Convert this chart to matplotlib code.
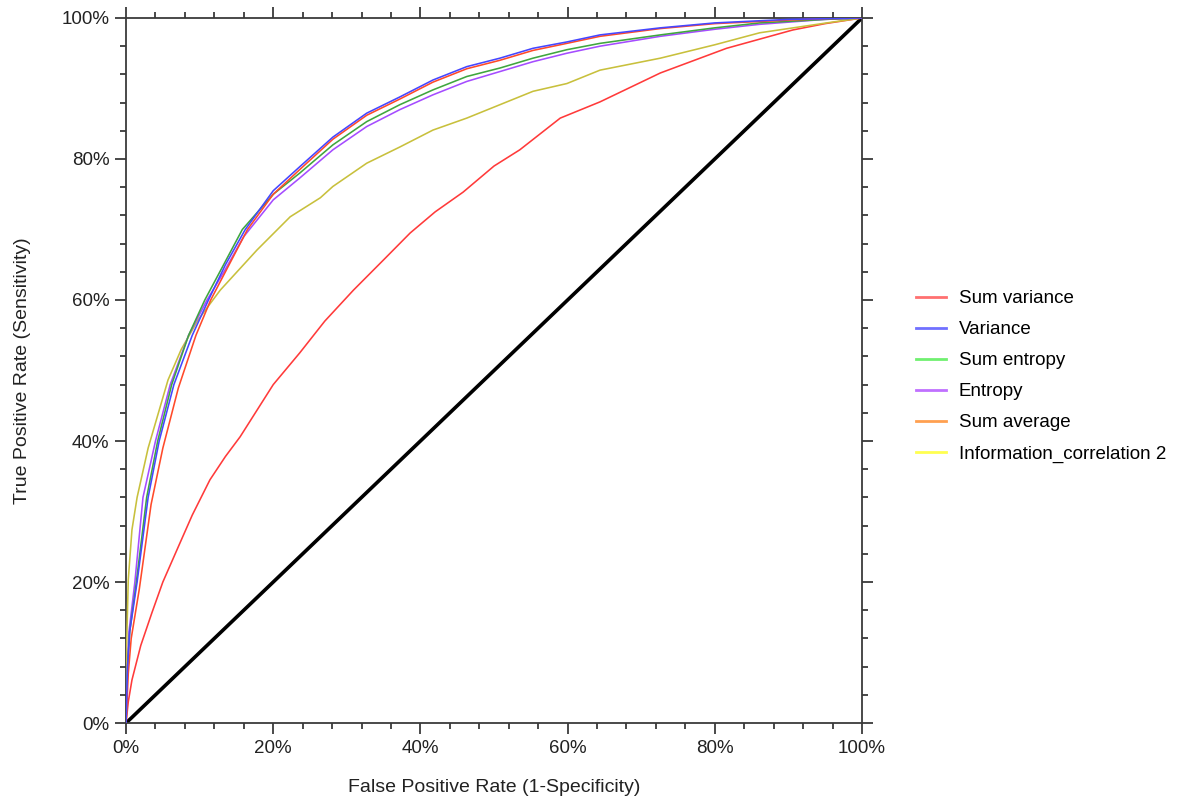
import matplotlib
matplotlib.use("Agg")
import matplotlib.pyplot as plt
from matplotlib.lines import Line2D
from matplotlib.ticker import MultipleLocator, PercentFormatter

plt.rcParams["font.family"] = ["Liberation Sans", "DejaVu Sans"]

# ROC points (FPR, TPR as fractions)
fpr_sum_variance = [0, 0.003, 0.008, 0.02, 0.035, 0.05, 0.071, 0.09, 0.114, 0.135, 0.155, 0.2,
                    0.236, 0.27, 0.309, 0.35, 0.386, 0.42, 0.458, 0.5, 0.535, 0.59, 0.644,
                    0.726, 0.816, 0.906, 0.95, 1.0]
tpr_sum_variance = [0, 0.03, 0.061, 0.11, 0.156, 0.20, 0.25, 0.295, 0.345, 0.378, 0.406, 0.48,
                    0.525, 0.57, 0.614, 0.657, 0.695, 0.725, 0.753, 0.79, 0.813, 0.858, 0.881,
                    0.922, 0.957, 0.983, 0.992, 1.0]

fpr_variance = [0, 0.002, 0.005, 0.015, 0.03, 0.045, 0.065, 0.09, 0.112, 0.135, 0.162, 0.2,
                0.236, 0.281, 0.327, 0.372, 0.417, 0.463, 0.508, 0.553, 0.599, 0.644, 0.726,
                0.8, 0.9, 0.952, 1.0]
tpr_variance = [0, 0.08, 0.13, 0.20, 0.32, 0.40, 0.48, 0.55, 0.60, 0.65, 0.70, 0.755,
                0.789, 0.831, 0.865, 0.888, 0.912, 0.931, 0.943, 0.957, 0.966, 0.976, 0.986,
                0.993, 0.998, 0.999, 1.0]

fpr_sum_entropy = [0, 0.002, 0.005, 0.014, 0.028, 0.043, 0.062, 0.085, 0.107, 0.13, 0.158, 0.2,
                   0.236, 0.281, 0.327, 0.372, 0.417, 0.463, 0.508, 0.553, 0.599, 0.644, 0.726,
                   0.8, 0.861, 0.95, 1.0]
tpr_sum_entropy = [0, 0.08, 0.13, 0.20, 0.32, 0.40, 0.48, 0.55, 0.60, 0.645, 0.70, 0.75,
                   0.780, 0.820, 0.853, 0.877, 0.898, 0.917, 0.929, 0.943, 0.955, 0.964, 0.976,
                   0.986, 0.993, 0.998, 1.0]

fpr_entropy = [0, 0.002, 0.004, 0.012, 0.023, 0.04, 0.06, 0.085, 0.11, 0.133, 0.16, 0.2,
               0.236, 0.281, 0.327, 0.372, 0.417, 0.463, 0.508, 0.553, 0.599, 0.644, 0.726,
               0.8, 0.861, 0.95, 1.0]
tpr_entropy = [0, 0.08, 0.13, 0.20, 0.32, 0.40, 0.48, 0.55, 0.60, 0.64, 0.69, 0.742,
               0.773, 0.813, 0.846, 0.870, 0.891, 0.910, 0.924, 0.938, 0.950, 0.960, 0.974,
               0.984, 0.991, 0.998, 1.0]

fpr_sum_average = [0, 0.003, 0.007, 0.018, 0.034, 0.05, 0.071, 0.095, 0.115, 0.14, 0.165, 0.2,
                   0.236, 0.281, 0.327, 0.372, 0.417, 0.463, 0.508, 0.553, 0.599, 0.644, 0.726,
                   0.8, 0.9, 0.952, 1.0]
tpr_sum_average = [0, 0.07, 0.12, 0.19, 0.31, 0.39, 0.475, 0.55, 0.60, 0.65, 0.70, 0.75,
                   0.785, 0.828, 0.862, 0.885, 0.909, 0.928, 0.940, 0.954, 0.964, 0.974, 0.985,
                   0.992, 0.997, 0.999, 1.0]

fpr_info_corr2 = [0, 0.001, 0.003, 0.008, 0.015, 0.03, 0.057, 0.075, 0.098, 0.128, 0.178, 0.223,
                  0.264, 0.281, 0.327, 0.372, 0.417, 0.463, 0.508, 0.553, 0.599, 0.644, 0.726,
                  0.8, 0.861, 0.952, 1.0]
tpr_info_corr2 = [0, 0.12, 0.203, 0.274, 0.32, 0.39, 0.4865, 0.53, 0.572, 0.614, 0.671, 0.718,
                  0.745, 0.761, 0.794, 0.817, 0.841, 0.858, 0.877, 0.896, 0.907, 0.926, 0.943,
                  0.962, 0.979, 0.993, 1.0]

labels = ["Sum variance", "Variance", "Sum entropy", "Entropy", "Sum average",
          "Information_correlation 2"]
# curve colours (as drawn) and the lighter legend swatches
line_colors = ["#ff3a3a", "#4646ff", "#3fa63f", "#a54cff", "#ff4a2a", "#c8c03c"]
legend_colors = ["#ff7070", "#7070ff", "#70f070", "#c070ff", "#ffa050", "#ffff50"]

curves = [
    (fpr_sum_variance, tpr_sum_variance),
    (fpr_variance, tpr_variance),
    (fpr_sum_entropy, tpr_sum_entropy),
    (fpr_entropy, tpr_entropy),
    (fpr_sum_average, tpr_sum_average),
    (fpr_info_corr2, tpr_info_corr2),
]

fig = plt.figure(figsize=(11.87, 7.99), dpi=100)
ax = fig.add_axes([0.1062, 0.0951, 0.62, 0.8824])

ax.plot([0, 1], [0, 1], color="black", linewidth=2.6, zorder=2)
# draw order so the blue sits on top of the sum-average curve near the top
order = [0, 5, 3, 2, 4, 1]
for i in order:
    x, y = curves[i]
    ax.plot(x, y, color=line_colors[i], linewidth=1.15, zorder=3)

ax.set_xlim(0, 1)
ax.set_ylim(0, 1)
ax.xaxis.set_major_locator(MultipleLocator(0.2))
ax.xaxis.set_minor_locator(MultipleLocator(0.04))
ax.yaxis.set_major_locator(MultipleLocator(0.2))
ax.yaxis.set_minor_locator(MultipleLocator(0.04))
ax.xaxis.set_major_formatter(PercentFormatter(1.0, decimals=0))
ax.yaxis.set_major_formatter(PercentFormatter(1.0, decimals=0))

spine_c = "#3a3a3a"
for s in ax.spines.values():
    s.set_color(spine_c)
    s.set_linewidth(1.3)
ax.tick_params(which="both", direction="out", top=True, right=True, color=spine_c,
               width=1.3, labelsize=13.5, labelcolor="#222222")
ax.tick_params(which="major", length=8, pad=4)
ax.tick_params(which="minor", length=4.5)

ax.set_xlabel("False Positive Rate (1-Specificity)", fontsize=14, color="#222222",
              labelpad=16)
ax.set_ylabel("True Positive Rate (Sensitivity)", fontsize=14, color="#222222",
              labelpad=22)

handles = [Line2D([], [], color=c, linewidth=2) for c in legend_colors]
fig.legend(handles, labels, loc="upper left", bbox_to_anchor=(0.765, 0.646),
           bbox_transform=fig.transFigure, frameon=False, fontsize=13.5,
           handlelength=1.6, handletextpad=0.7, labelspacing=0.74, borderaxespad=0)

fig.savefig("out.png", dpi=100)
